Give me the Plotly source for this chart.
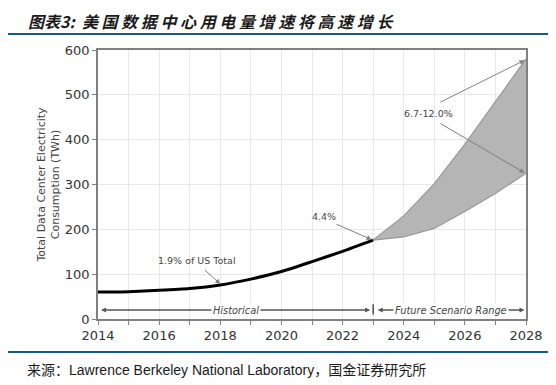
import plotly.graph_objects as go

hist_years = [2014, 2015, 2016, 2017, 2018, 2019, 2020, 2021, 2022, 2023]
hist_values = [60, 61, 64, 68, 76, 89, 106, 128, 151, 176]
proj_years = [2023, 2024, 2025, 2026, 2027, 2028]
proj_high = [176, 230, 302, 390, 485, 580]
proj_low = [176, 183, 202, 240, 280, 325]
x_ticks = [2014, 2016, 2018, 2020, 2022, 2024, 2026, 2028]
y_ticks = [0, 100, 200, 300, 400, 500, 600]

title_text = "图表3:  美 国 数 据 中 心 用 电 量 增 速 将 高 速 增 长"
source_text = "来源：Lawrence Berkeley National Laboratory，国金证券研究所"

OFF = 8  # page body margin
W, H = 556 - OFF, 385 - OFF
L, R, T, B = 98 - OFF, 556 - 526, 50 - OFF, 385 - 319
pw, ph = W - L - R, H - T - B

def px(x):
    return (x - OFF - L) / pw

def py(y):
    return (H - B - (y - OFF)) / ph

fig = go.Figure()
fig.add_trace(go.Scatter(x=proj_years, y=proj_low, mode="lines",
                         line=dict(color="#999999", width=1.2), showlegend=False, hoverinfo="skip"))
fig.add_trace(go.Scatter(x=proj_years, y=proj_high, mode="lines", fill="tonexty",
                         fillcolor="#b5b5b5",
                         line=dict(color="#999999", width=1.2), showlegend=False, hoverinfo="skip"))
fig.add_trace(go.Scatter(x=hist_years, y=hist_values, mode="lines",
                         line=dict(color="black", width=3, shape="spline", smoothing=0.6),
                         showlegend=False, hoverinfo="skip"))

gray = "#808080"
afont = dict(family="DejaVu Sans", size=9.5, color="#444444")
rfont = dict(family="DejaVu Sans", size=9.8, color="#444444")
ann = []
ann.append(dict(x=2018, y=78, ax=2017.45, ay=112, xref="x", yref="y", axref="x", ayref="y",
                text="", showarrow=True, arrowhead=2, arrowsize=1, arrowwidth=1, arrowcolor=gray))
ann.append(dict(x=2017.25, y=130, xref="x", yref="y", text="1.9% of US Total",
                showarrow=False, font=afont))
ann.append(dict(x=2022.95, y=177, ax=2021.75, ay=213, xref="x", yref="y", axref="x", ayref="y",
                text="", showarrow=True, arrowhead=2, arrowsize=1, arrowwidth=1, arrowcolor=gray))
ann.append(dict(x=2021.4, y=228, xref="x", yref="y", text="4.4%", showarrow=False, font=afont))
ann.append(dict(x=2027.95, y=577, ax=2025.15, ay=482, xref="x", yref="y", axref="x", ayref="y",
                text="", showarrow=True, arrowhead=2, arrowsize=1, arrowwidth=1, arrowcolor=gray))
ann.append(dict(x=2027.95, y=326, ax=2025.15, ay=438, xref="x", yref="y", axref="x", ayref="y",
                text="", showarrow=True, arrowhead=2, arrowsize=1, arrowwidth=1, arrowcolor=gray))
ann.append(dict(x=2024.8, y=458, xref="x", yref="y", text="6.7-12.0%", showarrow=False, font=afont))
ann.append(dict(x=2014.1, y=20, ax=2022.9, ay=20, xref="x", yref="y", axref="x", ayref="y",
                text="", showarrow=True, arrowhead=2, arrowsize=1, arrowwidth=1, arrowcolor="#555555"))
ann.append(dict(x=2022.9, y=20, ax=2014.1, ay=20, xref="x", yref="y", axref="x", ayref="y",
                text="", showarrow=True, arrowhead=2, arrowsize=1, arrowwidth=1, arrowcolor="#555555"))
ann.append(dict(x=2023.15, y=20, ax=2027.95, ay=20, xref="x", yref="y", axref="x", ayref="y",
                text="", showarrow=True, arrowhead=2, arrowsize=1, arrowwidth=1, arrowcolor="#555555"))
ann.append(dict(x=2027.95, y=20, ax=2023.15, ay=20, xref="x", yref="y", axref="x", ayref="y",
                text="", showarrow=True, arrowhead=2, arrowsize=1, arrowwidth=1, arrowcolor="#555555"))
ann.append(dict(x=2018.5, y=20, xref="x", yref="y", text="<i>Historical</i>", showarrow=False,
                bgcolor="white", borderpad=1, font=rfont))
ann.append(dict(x=2025.55, y=20, xref="x", yref="y", text="<i>Future Scenario Range</i>", showarrow=False,
                bgcolor="white", borderpad=1, font=rfont))
ann.append(dict(x=px(27), y=py(OFF), xref="paper", yref="paper", xanchor="left", yanchor="top",
                text="<b><i>" + title_text + "</i></b>", showarrow=False, borderpad=0,
                font=dict(family="Noto Sans CJK SC", size=16, color="#1a1a1a")))
ann.append(dict(x=px(25), y=py(370), xref="paper", yref="paper", xanchor="left", yanchor="middle",
                text=source_text, showarrow=False,
                font=dict(family="Liberation Sans, Noto Sans CJK SC", size=14, color="#1a1a1a")))

shapes = [
    dict(type="line", xref="paper", yref="paper", x0=px(8), x1=px(551), y0=py(34), y1=py(34),
         line=dict(color="#1b5a82", width=2)),
    dict(type="line", xref="paper", yref="paper", x0=px(8), x1=px(551), y0=py(352), y1=py(352),
         line=dict(color="#1b5a82", width=2)),
    dict(type="line", xref="x", yref="y", x0=2023, x1=2023, y0=10, y1=33,
         line=dict(color="#333333", width=1.3)),
]

fig.update_layout(
    width=W, height=H,
    margin=dict(l=L, r=R, t=T, b=B),
    plot_bgcolor="white", paper_bgcolor="white",
    annotations=ann, shapes=shapes,
    font=dict(family="DejaVu Sans", color="#333333"),
)
fig.update_xaxes(range=[2014, 2028], tickvals=x_ticks, ticktext=[str(v) for v in x_ticks],
                 showgrid=False, ticks="outside", ticklen=4, tickcolor=gray,
                 showline=True, linecolor=gray, linewidth=1.5, mirror=True,
                 tickfont=dict(size=13, color="#333333"), zeroline=False,
                 minor=dict(dtick=1, tick0=2014, showgrid=True, gridcolor="#e8e8e8", gridwidth=1,
                            ticks="outside", ticklen=4, tickcolor=gray))
fig.update_yaxes(range=[0, 600], tickvals=y_ticks, showgrid=True, gridcolor="#e8e8e8", gridwidth=1,
                 ticks="outside", ticklen=4, tickcolor=gray,
                 showline=True, linecolor=gray, linewidth=1.5, mirror=True,
                 tickfont=dict(size=13, color="#333333"), zeroline=False,
                 title=dict(text="Total Data Center Electricity<br>Consumption (TWh)",
                            font=dict(size=11, color="#444444"), standoff=3))
fig.write_html("out.html")
